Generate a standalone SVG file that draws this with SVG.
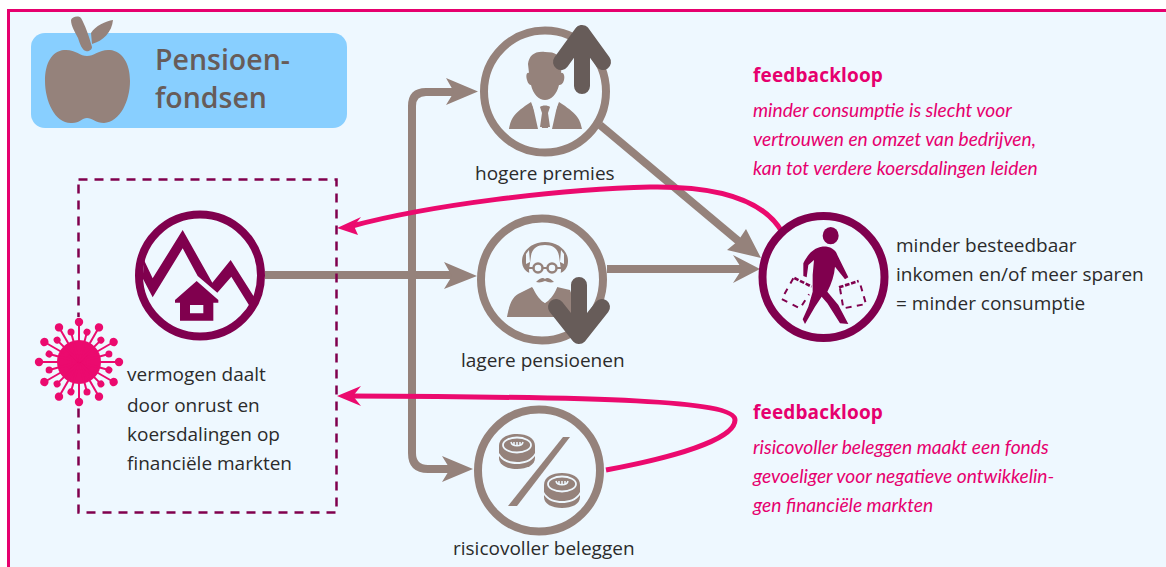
<svg xmlns="http://www.w3.org/2000/svg" xmlns:xlink="http://www.w3.org/1999/xlink" width="1166" height="567" viewBox="0 0 1166 567">
<style>
.t{font-family:"Open Sans","Noto Sans",sans-serif;font-size:19px;fill:#2b2b2b}
.p{font-family:"Lato","Open Sans",sans-serif;font-size:19.200px;font-style:italic;fill:#e6006e}
.h{font-family:"Open Sans","Noto Sans",sans-serif;font-size:19px;font-weight:700;letter-spacing:.15px;fill:#e6006e}
.ti{font-family:"Open Sans",sans-serif;font-size:28.500px;font-weight:600;fill:#675c59}
.b{fill:none;stroke:#95827b;stroke-width:8}
.r{fill:#eef8ff;stroke:#95827b;stroke-width:8}
.m{fill:#eef8ff;stroke:#80004e;stroke-width:8}
.fb{fill:#95827b}
.bg{fill:#eef8ff}
.fm{fill:#80004e}
.a{fill:none;stroke:#675c59;stroke-width:16;stroke-linecap:round;stroke-linejoin:round}
.pk{fill:none;stroke:#eb0a6e;stroke-width:5}
</style>
<defs>
<g id="sp">
<path d="M79 362H119" stroke="#eb0a6e" stroke-width="2"/><circle cx="119" cy="362" r="4.200" fill="#eb0a6e"/>
<path d="M79 362L108.900 354" stroke="#eb0a6e" stroke-width="2"/><circle cx="108.900" cy="354" r="3.500" fill="#eb0a6e"/>
</g>
<g id="coin">
<path class="fb" d="M0 12C0 4 8 0 18 0C28 0 36 4 36 12V24C36 31 28 35 18 35C8 35 0 31 0 24Z"/>
<path class="bg" d="M0 19C4 26 11 28 18 28C25 28 32 26 36 19V22C32 28 25 30 18 30C11 30 4 28 0 22Z"/>
<ellipse cx="18" cy="11" rx="14" ry="7.500" fill="none" stroke="#eef8ff" stroke-width="1.800"/>
<path d="M12 8C13 13 23 13 24 8M15 8V11M18 8V12M21 8V11" fill="none" stroke="#eef8ff" stroke-width="1.500"/>
</g>
</defs>
<rect x="0" y="0" width="1166" height="567" fill="#fff"/>
<rect x="8.500" y="10.500" width="1170" height="570" fill="#eef8ff" stroke="#e6006e" stroke-width="3"/>
<g id="title">
<rect x="31" y="33" width="316" height="95" rx="14" fill="#88cfff"/>
<path class="fb" d="M87 56C80 56 75 49 64 50C52 51 45 63 45 81C45 101 55 124 72 123C80 123 82 118 87 118C92 118 96 123 104 123C120 122 130 101 130 81C130 63 122 51 110 50C100 49 94 56 87 56Z"/>
<path class="fb" d="M71 20C72 17 78 15 81 18C85 25 89 36 92 47C92 50 88 52 86 51C82 50 80 44 78 38C75 32 71 26 71 20ZM91 33C95 26 106 21 113 20C112 32 103 41 92 44Z"/>
<text class="ti" x="155" y="70">Pensioen-</text>
<text class="ti" x="155" y="108">fondsen</text>
</g>
<g id="connectors">
<path class="b" d="M265 275H455"/>
<path class="b" d="M455 92H426Q412 92 412 106V453Q412 469 428 469H455"/>
<path class="b" d="M600 125L742 244"/>
<path class="b" d="M607 269H745"/>
<path class="fb" d="M446 78L478 91.500L446 105L454 92ZM444 262L477 276L444 289L452 276ZM442 456L473 469L442 482L450 469ZM733 255L760 269L733 283L742 269ZM746 229L761 258L727 250L738 241Z"/>
<path class="pk" d="M782 232C762 197 710 186 650 187C560 189 430 205 352 226"/>
<path fill="#eb0a6e" d="M337 228L361 217L354 226L358 235ZM337 396L361 386L353 396L361 406Z"/>
<path class="pk" d="M606 470C670 458 735 440 735 420C735 400 600 397 350 396"/>
</g>
<rect x="78.500" y="179.500" width="258" height="333" fill="none" stroke="#80004e" stroke-width="2.500" stroke-dasharray="9 7"/>
<g id="fonds-vermogen">
<circle class="m" cx="200" cy="275.500" r="61"/>
<path class="fm" transform="translate(20 200) scale(.33333)" d="M372 180L398 235L488 90L577 248L632 180L708 300L690 320L634 230L592 278L533 228L488 145L398 292L368 235Z"/>
<path class="fm" fill-rule="evenodd" transform="translate(20 200) scale(.33333)" d="M530 243L465 300V308H480V362H580V308H595V300ZM510 315H550V340H510Z"/>
</g>
<g id="virus">
<circle class="bg" cx="79" cy="362" r="45"/>
<circle cx="79" cy="362" r="22" fill="#eb0a6e"/>
<use xlink:href="#sp"/>
<use xlink:href="#sp" transform="rotate(30 79 362)"/>
<use xlink:href="#sp" transform="rotate(60 79 362)"/>
<use xlink:href="#sp" transform="rotate(90 79 362)"/>
<use xlink:href="#sp" transform="rotate(120 79 362)"/>
<use xlink:href="#sp" transform="rotate(150 79 362)"/>
<use xlink:href="#sp" transform="rotate(180 79 362)"/>
<use xlink:href="#sp" transform="rotate(210 79 362)"/>
<use xlink:href="#sp" transform="rotate(240 79 362)"/>
<use xlink:href="#sp" transform="rotate(270 79 362)"/>
<use xlink:href="#sp" transform="rotate(300 79 362)"/>
<use xlink:href="#sp" transform="rotate(330 79 362)"/>
</g>
<text class="t"><tspan x="127" y="381">vermogen daalt</tspan><tspan x="127" y="412">door onrust en</tspan><tspan x="127" y="441">koersdalingen op</tspan><tspan x="127" y="470">financiële markten</tspan></text>
<g id="hogere-premies">
<circle class="r" cx="545" cy="91.500" r="61"/>
<path class="fb" d="M545 52C534 51 529 56 528 64L529 73C526 72 526 77 527 80C528 84 530 85 531 85C533 94 539 100 545 100C551 100 557 94 559 85C561 85 563 84 564 80C565 77 564 72 561 73L562 64C560 55 556 52 545 52Z"/>
<path class="fb" d="M509 129C511 118 514 113 531 102L541 127H549L559 102C576 113 580 118 582 129Z"/>
<path class="bg" d="M532 102L538 105L542 128H548L552 105L558 102L552 129H538Z"/>
<path class="fb" d="M540 107C542 105 548 105 550 107L548 113L550 127H540L542 113Z"/>
<path class="a" d="M582 86V33M561 62L582 33L603 62"/>
<text class="t" x="475" y="180">hogere premies</text>
</g>
<g id="lagere-pensioenen">
<circle class="r" cx="542" cy="279.500" r="61"/>
<path class="fb" d="M507 317C510 300 514 296 520 293L532 287L545 303L557 287L570 290L580 317Z"/>
<path class="fb" d="M545 242C533 242 522 250 522 261C522 268 526 272 530 273L560 273C564 272 568 268 568 261C568 250 557 242 545 242Z"/>
<path class="bg" d="M531 256C532 248 538 245 545 245C552 245 558 248 559 256L561 270C560 288 551 300 545 303C539 300 530 288 529 270Z"/>
<path class="bg" d="M526 254L529 250L530 262L526 264ZM564 254L561 250L560 262L564 264Z"/>
<circle cx="538" cy="268" r="4.500" fill="none" stroke="#95827b" stroke-width="2.500"/>
<circle cx="552" cy="268" r="4.500" fill="none" stroke="#95827b" stroke-width="2.500"/>
<path class="fb" d="M536 282C540 278 543 277 545 279C547 277 550 278 554 282C550 283 548 282 545 281C542 282 540 283 536 282Z"/>
<path d="M527 268H533M557 268H563M543 268H547" stroke="#95827b" stroke-width="2"/>
<path class="a" d="M579 285V336M556 307L579 336L602 307"/>
<text class="t" x="461" y="367">lagere pensioenen</text>
</g>
<g id="risicovoller">
<circle class="r" cx="539" cy="470.500" r="61"/>
<path class="fb" d="M563 437H570L517 506H508Z"/>
<use xlink:href="#coin" transform="translate(499 434)"/>
<use xlink:href="#coin" transform="translate(544 473)"/>
<text class="t" x="453" y="555">risicovoller beleggen</text>
</g>
<g id="consumptie">
<circle class="m" cx="823.500" cy="277" r="61"/>
<g transform="translate(740 200) scale(.33333)">
<ellipse class="fm" cx="272" cy="107" rx="24" ry="26"/>
<path class="fm" d="M245 140C265 138 285 145 292 165L325 232L315 238L285 200C283 225 275 250 262 275L295 315L325 372L300 370L262 310L245 290L225 320L195 372L188 358L205 320L218 275L218 225L222 180L205 195L200 232L190 228L190 190C205 160 220 145 245 140Z"/>
<path d="M160 235L125 297L180 325L207 283" fill="none" stroke="#80004e" stroke-width="6" stroke-dasharray="18 18"/>
<path d="M163 234L215 260M297 262L356 243" fill="none" stroke="#80004e" stroke-width="8" stroke-dasharray="14 5"/>
<path d="M300 265L310 325L378 312L360 250" fill="none" stroke="#80004e" stroke-width="6" stroke-dasharray="18 16"/>
</g>
<text class="t"><tspan x="896" y="252">minder besteedbaar</tspan><tspan x="896" y="281">inkomen en/of meer sparen</tspan><tspan x="896" y="310">= minder consumptie</tspan></text>
</g>
<g id="feedback1">
<text class="h" x="753" y="82">feedbackloop</text>
<text class="p"><tspan x="753" y="117">minder consumptie is slecht voor</tspan><tspan x="753" y="146">vertrouwen en omzet van bedrijven,</tspan><tspan x="753" y="175">kan tot verdere koersdalingen leiden</tspan></text>
</g>
<g id="feedback2">
<text class="h" x="753" y="419">feedbackloop</text>
<text class="p"><tspan x="753" y="454">risicovoller beleggen maakt een fonds</tspan><tspan x="753" y="483">gevoeliger voor negatieve ontwikkelin-</tspan><tspan x="753" y="512">gen financiële markten</tspan></text>
</g>
</svg>
